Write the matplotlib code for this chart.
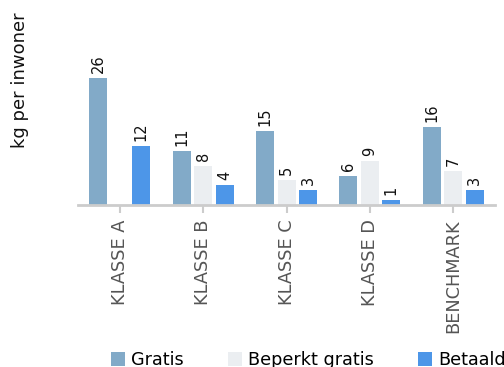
import matplotlib
matplotlib.use("Agg")
import matplotlib.pyplot as plt
import numpy as np

categories = ["KLASSE A", "KLASSE B", "KLASSE C", "KLASSE D", "BENCHMARK"]
series_names = ["Gratis", "Beperkt gratis", "Betaald"]
gratis = [26, 11, 15, 6, 16]
beperkt_gratis = [0, 8, 5, 9, 7]
betaald = [12, 4, 3, 1, 3]
colors = ["#82aac8", "#ebeef1", "#4d96e8"]

plt.rcParams["font.family"] = ["DejaVu Sans"]

fig = plt.figure(figsize=(5.04, 3.67), dpi=100)
ax = fig.add_axes([78 / 504, 1 - 205 / 367, 417 / 504, 200 / 367])

x = np.arange(len(categories))
width = 18 / 83.4
step = 21.5 / 83.4
series = [gratis, beperkt_gratis, betaald]
for i, (vals, name, col) in enumerate(zip(series, series_names, colors)):
    pos = x + (i - 1) * step
    ax.bar(pos, vals, width=width, color=col, label=name, zorder=2)
    for p, v in zip(pos, vals):
        if v == 0:
            continue
        ax.annotate(str(v), (p, v), xytext=(0, 3.6), textcoords="offset points",
                    rotation=90, ha="center", va="bottom",
                    fontsize=10.5, color="#111111")

ax.set_xlim(-0.5, len(categories) - 0.5)
ax.set_ylim(0, 40.8)
ax.set_xticks(x)
ax.set_xticklabels(categories, rotation=90, fontsize=12.8, color="#555555")
ax.tick_params(axis="x", length=5.5, width=1.5, color="#cccccc", pad=5)
ax.set_yticks([])
for s in ["top", "right", "left"]:
    ax.spines[s].set_visible(False)
ax.spines["bottom"].set_color("#cccccc")
ax.spines["bottom"].set_linewidth(2)

fig.text(20 / 504, 1 - 80 / 367, "kg per inwoner", rotation=90, ha="center",
         va="center", fontsize=13, color="#111111")

leg = fig.legend(loc="upper left", bbox_to_anchor=(111 / 504, 1 - 351 / 367),
                 ncol=3, frameon=False, fontsize=12.7, handlelength=0.8,
                 handleheight=0.8, handletextpad=0.34, columnspacing=2.5,
                 borderaxespad=0, borderpad=0)

fig.savefig("out.png", dpi=100)
